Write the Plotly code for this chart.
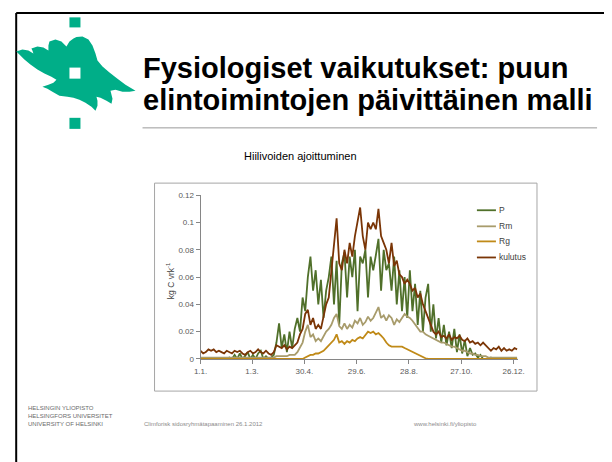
import plotly.graph_objects as go

# Mapping from target window pixels to figure paper coordinates.
# Calibrated from earlier renders: the figure appears offset and slightly scaled in the photo.
W, H = 612, 462
S = 0.976
OX, OY = 16, 14

# ---------------- data ----------------
days = list(range(1, 366, 3))
series_names = ["P", "Rm", "Rg", "kulutus"]
tick_days = [1, 60, 120, 180, 240, 300, 360]
tick_labels = ["1.1.", "1.3.", "30.4.", "29.6.", "28.8.", "27.10.", "26.12."]
y_ticks = [0, 0.02, 0.04, 0.06, 0.08, 0.1, 0.12]
y_tick_labels = ["0", "0.02", "0.04", "0.06", "0.08", "0.1", "0.12"]

P = [0, 0, 0, 0, 0, 0, 0, 0, 0, 0,
     0, 0.001, 0, 0.003, 0, 0.004, 0, 0.002, 0.005, 0,
     0.003, 0, 0.004, 0.006, 0, 0.002, 0, 0.001, 0.003, 0.012,
     0.026, 0.008, 0.018, 0.005, 0.02, 0.008, 0.022, 0.03, 0.02, 0.045,
     0.035, 0.06, 0.075, 0.05, 0.065, 0.04, 0.058, 0.03, 0.05, 0.06,
     0.075, 0.04, 0.072, 0.025, 0.07, 0.078, 0.045, 0.075, 0.06, 0.08,
     0.035, 0.075, 0.07, 0.08, 0.045, 0.075, 0.065, 0.076, 0.088, 0.05,
     0.08, 0.065, 0.07, 0.05, 0.075, 0.04, 0.065, 0.035, 0.06, 0.03,
     0.065, 0.035, 0.055, 0.025, 0.05, 0.02, 0.045, 0.055, 0.02, 0.04,
     0.015, 0.03, 0.012, 0.025, 0.01, 0.02, 0.008, 0.022, 0.005, 0.018,
     0.004, 0.014, 0.002, 0.008, 0.003, 0.004, 0.001, 0.003, 0, 0,
     0, 0.001, 0, 0, 0, 0, 0, 0, 0, 0, 0, 0]

Rm = [0.001, 0.001, 0.001, 0.001, 0.001, 0.001, 0.001, 0.001, 0.001, 0.001,
      0.001, 0.001, 0.001, 0.001, 0.001, 0.001, 0.001, 0.001, 0.001, 0.001,
      0.001, 0.001, 0.001, 0.001, 0.001, 0.001, 0.001, 0.001, 0.001, 0.002,
      0.002, 0.002, 0.002, 0.002, 0.003, 0.003, 0.003, 0.005, 0.008, 0.012,
      0.02, 0.025, 0.016, 0.018, 0.013, 0.015, 0.013, 0.017, 0.02, 0.022,
      0.025, 0.03, 0.033, 0.024, 0.022, 0.026, 0.022, 0.025, 0.023, 0.028,
      0.026, 0.03, 0.025, 0.027, 0.031, 0.028, 0.03, 0.034, 0.038, 0.03,
      0.032, 0.028, 0.032, 0.03, 0.025, 0.029, 0.027, 0.03, 0.033, 0.031,
      0.03, 0.028, 0.025, 0.023, 0.02, 0.02, 0.018, 0.017, 0.016, 0.015,
      0.014, 0.013, 0.012, 0.012, 0.011, 0.01, 0.009, 0.009, 0.008, 0.007,
      0.006, 0.006, 0.005, 0.004, 0.004, 0.003, 0.003, 0.002, 0.002, 0.002,
      0.001, 0.001, 0.001, 0.001, 0.001, 0.001, 0.001, 0.001, 0.001, 0.001, 0.001, 0.001]

Rg = [0, 0, 0, 0, 0, 0, 0, 0, 0, 0,
      0, 0, 0, 0, 0, 0, 0, 0, 0, 0,
      0, 0, 0, 0, 0, 0, 0, 0, 0, 0,
      0, 0, 0, 0, 0, 0, 0, 0, 0, 0,
      0.001, 0.002, 0.003, 0.003, 0.004, 0.004, 0.005, 0.006, 0.008, 0.01,
      0.012, 0.014, 0.018, 0.012, 0.013, 0.011, 0.013, 0.012, 0.014, 0.013,
      0.015, 0.016, 0.015, 0.018, 0.02, 0.019, 0.02, 0.018, 0.019, 0.017,
      0.015, 0.012, 0.01, 0.009, 0.009, 0.009, 0.009, 0.009, 0.008, 0.007,
      0.006, 0.005, 0.004, 0.003, 0.002, 0.001, 0.0005, 0, 0, 0,
      0, 0, 0, 0, 0, 0, 0, 0, 0, 0,
      0, 0, 0, 0, 0, 0, 0, 0, 0, 0,
      0, 0, 0, 0, 0, 0, 0, 0, 0, 0, 0, 0]

kulutus = [0.006, 0.004, 0.005, 0.007, 0.006, 0.007, 0.005, 0.006, 0.005, 0.004,
           0.006, 0.005, 0.004, 0.006, 0.005, 0.006, 0.004, 0.003, 0.005, 0.006,
           0.004, 0.005, 0.007, 0.005, 0.004, 0.006, 0.004, 0.003, 0.005, 0.01,
           0.009, 0.008, 0.01, 0.007, 0.009, 0.008, 0.01, 0.012, 0.018, 0.022,
           0.033, 0.036, 0.025, 0.03, 0.022, 0.025, 0.022, 0.03, 0.04, 0.045,
           0.065, 0.085, 0.103, 0.07, 0.065, 0.08, 0.07, 0.085, 0.075, 0.09,
           0.1, 0.111, 0.09, 0.08, 0.1, 0.095, 0.1, 0.095, 0.11, 0.09,
           0.085, 0.08, 0.07, 0.085, 0.068, 0.072, 0.062, 0.06, 0.055, 0.058,
           0.055, 0.05, 0.052, 0.045, 0.048, 0.04, 0.035, 0.03, 0.025, 0.02,
           0.018, 0.02, 0.016, 0.017, 0.015, 0.018, 0.014, 0.016, 0.015, 0.017,
           0.014, 0.013, 0.015, 0.012, 0.013, 0.011, 0.012, 0.01, 0.012, 0.01,
           0.008, 0.006, 0.008, 0.007, 0.009, 0.006, 0.008, 0.006, 0.007, 0.006, 0.008, 0.007]

series_values = [P, Rm, Rg, kulutus]
colors = ["#50702a", "#a89c6c", "#c08a18", "#7a3506"]


# ---------------- helpers (target pixel -> paper) ----------------
def px(x):
    return min(1.0, max(0.002, (x / S - OX) / W))


def py(y):
    return min(0.998, max(0.0, 1 - (y / S - OY) / H))


fig = go.Figure()
for name, vals, col in zip(series_names, series_values, colors):
    fig.add_trace(go.Scatter(x=days, y=vals, mode="lines", name=name,
                             line=dict(color=col, width=1.8), showlegend=False))

axis_font = dict(family="Liberation Sans, Arial, sans-serif", size=8, color="#595959")
fig.update_layout(
    width=W, height=H, margin=dict(l=0, r=0, t=0, b=0),
    paper_bgcolor="white", plot_bgcolor="white",
    xaxis=dict(domain=[px(201), px(518)], range=[1, 365], tickvals=tick_days,
               ticktext=tick_labels, showgrid=False, zeroline=False,
               showline=True, linecolor="#868686", linewidth=1,
               ticks="outside", ticklen=4, tickcolor="#868686", tickfont=axis_font),
    yaxis=dict(domain=[py(359), py(196)], range=[0, 0.12], tickvals=y_ticks,
               ticktext=y_tick_labels, showgrid=False, zeroline=False,
               showline=True, linecolor="#868686", linewidth=1,
               ticks="outside", ticklen=4, tickcolor="#868686", tickfont=axis_font),
)

shapes = []
# slide border (left and top)
shapes.append(dict(type="line", xref="paper", yref="paper", x0=px(9), x1=px(9), y0=py(12), y1=0,
                   line=dict(color="black", width=2)))
shapes.append(dict(type="line", xref="paper", yref="paper", x0=px(9), x1=1, y0=py(12), y1=py(12),
                   line=dict(color="black", width=2)))
# title underline
shapes.append(dict(type="line", xref="paper", yref="paper", x0=px(143), x1=px(597), y0=py(129), y1=py(129),
                   line=dict(color="#999999", width=1)))
# chart frame
shapes.append(dict(type="rect", xref="paper", yref="paper", x0=px(155), x1=px(537), y0=py(391), y1=py(184),
                   line=dict(color="#a6a6a6", width=1)))

# logo (flame with three squares)
teal = "#00ae88"
flame = [(16, 53), (23, 51), (29, 52), (34, 55), (33, 52), (32, 50),
         (38, 48), (44, 49), (49, 52), (49, 47), (50, 43),
         (56, 41), (62, 43), (67, 48), (70, 43), (74, 40), (77, 38.5),
         (83, 38), (89, 41), (93, 47), (96, 55), (98, 62), (103, 68), (110, 74),
         (118, 80), (126, 86), (131, 89), (136, 92),
         (130, 93), (123, 93), (116, 91), (111, 92),
         (112, 96), (113, 100), (112, 105),
         (107, 102), (101, 99), (97, 98),
         (98, 102), (98, 107), (96, 112),
         (92, 108), (86, 104), (80, 101), (74, 99), (68, 98),
         (60, 97), (53, 93), (48, 90), (43, 88),
         (49, 86), (54, 84), (57, 81),
         (52, 78), (45, 75), (38, 71), (31, 66), (25, 61), (20, 56)]
path = "M " + " L ".join(f"{px(a):.5f},{py(b):.5f}" for a, b in flame) + " Z"
shapes.append(dict(type="path", xref="paper", yref="paper", path=path, fillcolor=teal, line=dict(width=0)))
for (x0, y0, x1, y1, c) in [(70, 19, 81, 29, teal), (70, 69, 81, 80, "white"), (70, 119, 81, 130, teal)]:
    shapes.append(dict(type="rect", xref="paper", yref="paper", x0=px(x0), x1=px(x1), y0=py(y1), y1=py(y0),
                       fillcolor=c, line=dict(width=0)))

# legend (manual, Excel-style short samples)
leg_y = [211, 227, 242, 258]
annotations = []
for name, col, yy in zip(series_names, colors, leg_y):
    shapes.append(dict(type="line", xref="paper", yref="paper", x0=px(477), x1=px(496), y0=py(yy), y1=py(yy),
                       line=dict(color=col, width=1.8)))
    annotations.append(dict(x=px(497), y=py(yy), xref="paper", yref="paper", text=name, showarrow=False,
                            xanchor="left", yanchor="middle",
                            font=dict(family="Liberation Sans, Arial, sans-serif", size=8.5, color="#404040")))

title_font = dict(family="Liberation Sans, Arial, sans-serif", size=29, color="black")
annotations += [
    dict(x=px(141), y=py(69), xref="paper", yref="paper", text="<b>Fysiologiset vaikutukset: puun</b>",
         showarrow=False, xanchor="left", yanchor="middle", font=title_font),
    dict(x=px(141), y=py(101), xref="paper", yref="paper", text="<b>elintoimintojen päivittäinen malli</b>",
         showarrow=False, xanchor="left", yanchor="middle", font=title_font),
    dict(x=px(301), y=py(157), xref="paper", yref="paper", text="Hiilivoiden ajoittuminen",
         showarrow=False, xanchor="center", yanchor="middle",
         font=dict(family="Liberation Sans, Arial, sans-serif", size=11, color="black")),
    dict(x=px(171), y=py(281), xref="paper", yref="paper", text="kg C vrk<sup>-1</sup>",
         showarrow=False, xanchor="center", yanchor="middle", textangle=-90,
         font=dict(family="Liberation Sans, Arial, sans-serif", size=8.5, color="#404040")),
]
foot_font = dict(family="Liberation Sans, Arial, sans-serif", size=6, color="#6a6a6a")
for txt, yy in [("HELSINGIN YLIOPISTO", 408), ("HELSINGFORS UNIVERSITET", 416), ("UNIVERSITY OF HELSINKI", 424)]:
    annotations.append(dict(x=px(27), y=py(yy), xref="paper", yref="paper", text=txt, showarrow=False,
                            xanchor="left", yanchor="middle", font=foot_font))
light_font = dict(family="Liberation Sans, Arial, sans-serif", size=6, color="#8a8a8a")
annotations.append(dict(x=px(142), y=py(424), xref="paper", yref="paper",
                        text="Climforisk sidosryhmätapaaminen 26.1.2012", showarrow=False,
                        xanchor="left", yanchor="middle", font=light_font))
annotations.append(dict(x=px(411), y=py(424), xref="paper", yref="paper",
                        text="www.helsinki.fi/yliopisto", showarrow=False,
                        xanchor="left", yanchor="middle", font=light_font))

fig.update_layout(shapes=shapes, annotations=annotations)
fig.write_html("out.html")
